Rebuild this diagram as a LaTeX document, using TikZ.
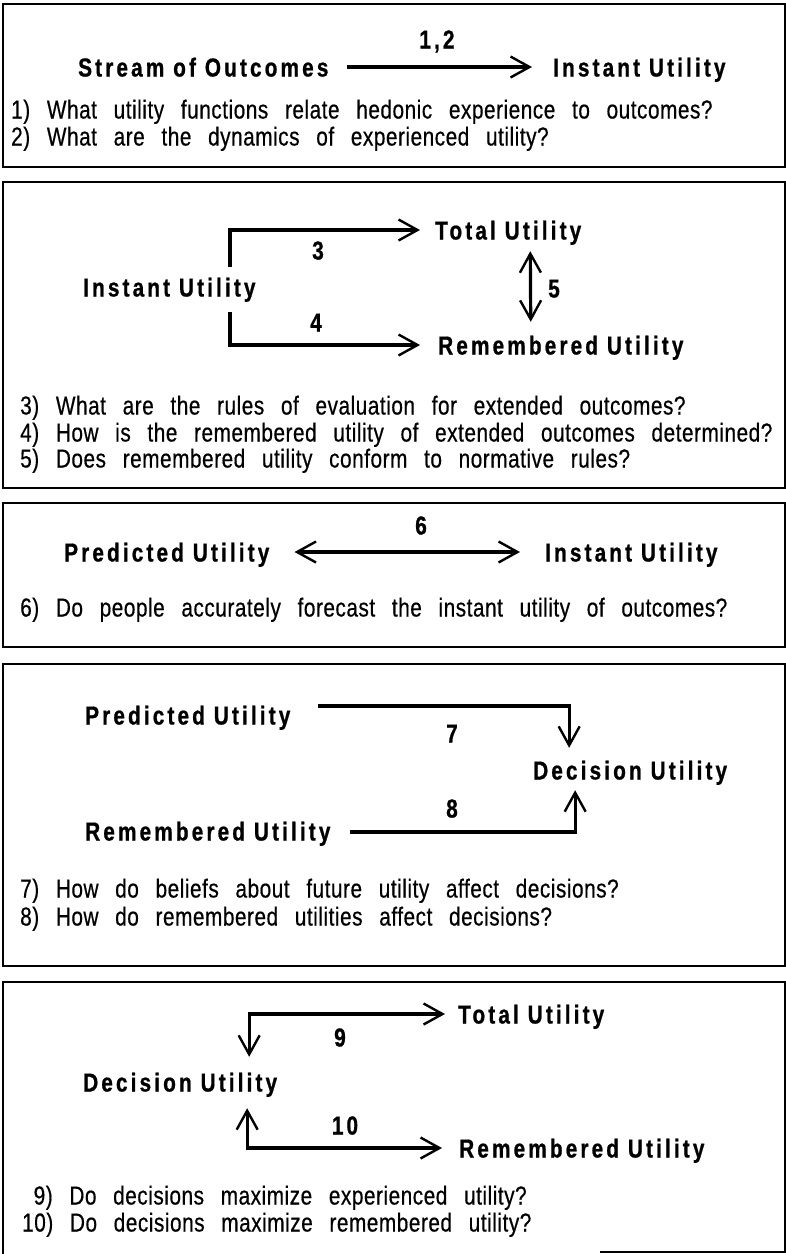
\documentclass[tikz,border=0pt]{standalone}
\usepackage{fontspec}
\setmainfont{Liberation Sans}
\newfontfamily\utilfont[LetterSpace=12,FakeStretch=0.8,FakeBold=0.8]{Liberation Sans}
\newfontfamily\questfont[LetterSpace=2,WordSpace=2.65,FakeStretch=0.8,FakeBold=0.5]{Liberation Sans}
\usetikzlibrary{arrows.meta}

\begin{document}
\begin{tikzpicture}[
    x=1pt, y=1pt,
    >={Straight Barb[length=19pt,width=21pt,line width=2.4pt]},
    utilnode/.style={anchor=west, inner sep=0pt, text height=19pt, text depth=0pt, font=\utilfont\bfseries\fontsize{26}{30}\selectfont},
    numnode/.style={inner sep=0pt, text height=19pt, text depth=0pt, font=\utilfont\bfseries\fontsize{26}{30}\selectfont},
    questnode/.style={anchor=west, inner sep=0pt, text height=19pt, text depth=0pt, font=\questfont\fontsize{26}{30}\selectfont},
    framebox/.style={draw, line width=1.7pt},
    flowarrow/.style={->, line width=3.2pt},
    ]
    \useasboundingbox (0,0) rectangle (786,-1254);

    %Frames
    \draw[framebox] (3,-4) rectangle (785,-167);
    \draw[framebox] (3,-182) rectangle (785,-488);
    \draw[framebox] (3,-503) rectangle (785,-647);
    \draw[framebox] (3,-664) rectangle (785,-966);
    \draw[framebox] (600,-1252) -| (785,-982) -| (3,-1254);

    %Nodes
    \node[numnode]   (num12)    at (437,-39)  {1,2};
    \node[utilnode]  (stream)   at (78,-67)   {Stream of Outcomes};
    \node[utilnode]  (instant1) at (553,-67)  {Instant Utility};
    \node[questnode] (q1)       at (11,-109)  {1) What utility functions relate hedonic experience to outcomes?};
    \node[questnode] (q2)       at (11,-136)  {2) What are the dynamics of experienced utility?};

    \node[utilnode]  (total2)   at (435,-230) {Total Utility};
    \node[utilnode]  (instant2) at (83,-287)  {Instant Utility};
    \node[utilnode]  (remem2)   at (438,-345) {Remembered Utility};
    \node[numnode]   (num3)     at (318,-250) {3};
    \node[numnode]   (num4)     at (316,-322) {4};
    \node[numnode]   (num5)     at (554,-288) {5};
    \node[questnode] (q3)       at (20,-405)  {3) What are the rules of evaluation for extended outcomes?};
    \node[questnode] (q4)       at (20,-432)  {4) How is the remembered utility of extended outcomes determined?};
    \node[questnode] (q5)       at (20,-458)  {5) Does remembered utility conform to normative rules?};
    \coordinate (bend3) at (230,-267);
    \coordinate (bend4) at (230,-312);

    \node[numnode]   (num6)     at (421,-525) {6};
    \node[utilnode]  (pred3)    at (64,-552)  {Predicted Utility};
    \node[utilnode]  (instant3) at (545,-552) {Instant Utility};
    \node[questnode] (q6)       at (20,-607)  {6) Do people accurately forecast the instant utility of outcomes?};

    \node[utilnode]  (pred4)    at (85,-715)  {Predicted Utility};
    \node[utilnode]  (dec4)     at (533,-770) {Decision Utility};
    \node[utilnode]  (remem4)   at (85,-831)  {Remembered Utility};
    \node[numnode]   (num7)     at (452,-733) {7};
    \node[numnode]   (num8)     at (452,-808) {8};
    \node[questnode] (q7)       at (20,-888)  {7) How do beliefs about future utility affect decisions?};
    \node[questnode] (q8)       at (20,-916)  {8) How do remembered utilities affect decisions?};

    \node[utilnode]  (total5)   at (458,-1014) {Total Utility};
    \node[utilnode]  (dec5)     at (83,-1082)  {Decision Utility};
    \node[utilnode]  (remem5)   at (459,-1148) {Remembered Utility};
    \node[numnode]   (num9)     at (340,-1037) {9};
    \node[numnode]   (num10)    at (345,-1125) {1\kern3pt0};
    \node[questnode] (q9)       at (33.5,-1195) {9) Do decisions maximize experienced utility?};
    \node[questnode] (q10)      at (22,-1222)  {10) Do decisions maximize remembered utility?};

    %Lines
    \draw[flowarrow, shorten <=18pt, shorten >=21pt] (stream.east) -- (instant1.west);

    \draw[flowarrow, shorten >=15pt] (bend3) |- (total2.west);
    \draw[flowarrow, shorten >=18pt] (bend4) |- (remem2.west);
    \draw[flowarrow, <->, shorten <=11.5pt, shorten >=13.5pt] ([xshift=22pt]total2.south) -- ([xshift=-30pt]remem2.north);

    \draw[flowarrow, <->, shorten <=25pt, shorten >=25pt] (pred3.east) -- (instant3.west);

    \draw[flowarrow, shorten >=12.5pt] ([xshift=27pt,yshift=9pt]pred4.east) -| ([xshift=-61pt]dec4.north);
    \draw[flowarrow, shorten >=10.5pt] ([xshift=19pt,yshift=-1pt]remem4.east) -| ([xshift=-55pt]dec4.south);

    \draw[flowarrow, <->, shorten <=15.5pt, shorten >=13pt] ([xshift=69pt]dec5.north) |- (total5.west);
    \draw[flowarrow, <->, shorten <=16.5pt, shorten >=17pt] ([xshift=67pt]dec5.south) |- (remem5.west);
\end{tikzpicture}
\end{document}
